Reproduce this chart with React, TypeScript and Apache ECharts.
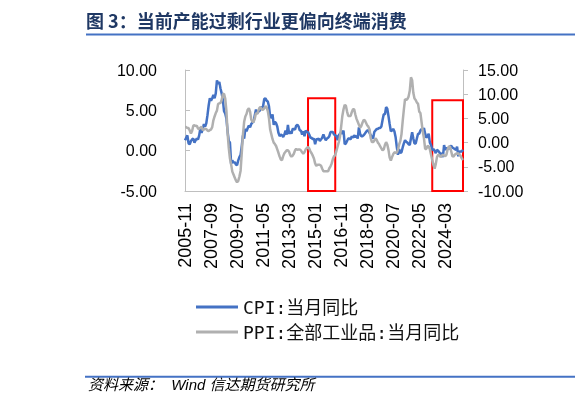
import React, { useEffect, useRef } from "react";
import * as echarts from "echarts";

// ---- Data (monthly, YoY %) ----
const startYear = 2005;
const startMonth = 11;

// CPI: 当月同比, 2005-11 .. 2025-06
const cpi: number[] = [
  1.3, 1.6,
  1.9, 0.9, 0.8, 1.2, 1.4, 1.5, 1.0, 1.3, 1.5, 1.4, 1.9, 2.8,
  2.2, 2.7, 3.3, 3.0, 3.4, 4.4, 5.6, 6.5, 6.2, 6.5, 6.9, 6.5,
  7.1, 8.7, 8.3, 8.5, 7.7, 7.1, 6.3, 4.9, 4.6, 4.0, 2.4, 1.2,
  1.0, -1.6, -1.2, -1.5, -1.4, -1.7, -1.8, -1.2, -0.8, -0.5, 0.6, 1.9,
  1.5, 2.7, 2.4, 2.8, 3.1, 2.9, 3.3, 3.5, 3.6, 4.4, 5.1, 4.6,
  4.9, 4.9, 5.4, 5.3, 5.5, 6.4, 6.5, 6.2, 6.1, 5.5, 4.2, 4.1,
  4.5, 3.2, 3.6, 3.4, 3.0, 2.2, 1.8, 2.0, 1.9, 1.7, 2.0, 2.5,
  2.0, 3.2, 2.1, 2.4, 2.1, 2.7, 2.7, 2.6, 3.1, 3.2, 3.0, 2.5,
  2.5, 2.0, 2.4, 1.8, 2.5, 2.3, 2.3, 2.0, 1.6, 1.6, 1.4, 1.5,
  0.8, 1.4, 1.4, 1.5, 1.2, 1.4, 1.6, 2.0, 1.6, 1.3, 1.5, 1.6,
  1.8, 2.3, 2.3, 2.3, 2.0, 1.9, 1.8, 1.3, 1.9, 2.1, 2.3, 2.1,
  2.5, 0.8, 0.9, 1.2, 1.5, 1.5, 1.4, 1.8, 1.6, 1.9, 1.7, 1.8,
  1.5, 2.9, 2.1, 1.8, 1.8, 1.9, 2.1, 2.3, 2.5, 2.5, 2.2, 1.9,
  1.7, 1.5, 2.3, 2.5, 2.7, 2.7, 2.8, 2.8, 3.0, 3.8, 4.5, 4.5,
  5.4, 5.2, 4.3, 3.3, 2.4, 2.5, 2.7, 2.4, 1.7, 0.5, -0.5, 0.2,
  -0.3, -0.2, 0.4, 0.9, 1.3, 1.1, 1.0, 0.8, 0.7, 1.5, 2.3, 1.5,
  0.9, 0.9, 1.5, 2.1, 2.1, 2.5, 2.7, 2.5, 2.8, 2.1, 1.6, 1.8,
  2.1, 1.0, 0.7, 0.1, 0.2, 0.0, -0.3, 0.1, 0.0, -0.2, -0.5, -0.3,
  -0.8, 0.7, 0.1, 0.3, 0.3, 0.2, 0.5, 0.6, 0.4, 0.3, 0.2, 0.1,
  0.5, -0.7, -0.1, -0.1, -0.1, 0.1,
];

// PPI: 全部工业品: 当月同比, 2005-11 .. 2025-06
const ppi: number[] = [
  3.2, 3.2,
  3.0, 3.0, 2.5, 1.9, 2.4, 3.5, 3.6, 3.4, 3.5, 2.9, 2.8, 3.1,
  3.3, 2.6, 2.7, 2.9, 2.8, 2.5, 2.4, 2.6, 2.7, 3.2, 4.6, 5.4,
  6.1, 6.6, 8.0, 8.1, 8.2, 8.8, 10.0, 10.1, 9.1, 6.6, 2.0, -1.1,
  -3.3, -4.5, -6.0, -6.6, -7.2, -7.8, -8.2, -7.9, -7.0, -5.8, -2.1, 1.7,
  4.3, 5.4, 5.9, 6.8, 7.1, 6.4, 4.8, 4.3, 4.3, 5.0, 6.1, 5.9,
  6.6, 7.2, 7.3, 6.8, 6.8, 7.1, 7.5, 7.3, 6.5, 5.0, 2.7, 1.7,
  0.7, 0.0, -0.3, -0.7, -1.4, -2.1, -2.9, -3.5, -3.6, -2.8, -2.2, -1.9,
  -1.6, -1.6, -1.9, -2.6, -2.9, -2.7, -2.3, -1.6, -1.3, -1.5, -1.4, -1.4,
  -1.6, -2.0, -2.3, -2.0, -1.4, -1.1, -0.9, -1.2, -1.8, -2.2, -2.7, -3.3,
  -4.3, -4.8, -4.6, -4.6, -4.6, -4.8, -5.4, -5.9, -5.9, -5.9, -5.9, -5.9,
  -5.3, -4.9, -4.3, -3.4, -2.8, -2.6, -1.7, -0.8, 0.1, 1.2, 3.3, 5.5,
  6.9, 7.8, 7.6, 6.4, 5.5, 5.5, 5.5, 6.3, 6.9, 6.9, 5.8, 4.9,
  4.3, 3.7, 3.1, 3.4, 4.1, 4.7, 4.6, 4.1, 3.6, 3.3, 2.7, 0.9,
  0.1, 0.1, 0.4, 0.9, 0.6, 0.0, -0.3, -0.8, -1.2, -1.6, -1.4, -0.5,
  0.1, -0.4, -1.5, -3.1, -3.7, -3.0, -2.4, -2.0, -2.1, -2.1, -1.5, -0.4,
  0.3, 1.7, 4.4, 6.8, 9.0, 8.8, 9.0, 9.5, 10.7, 13.5, 12.9, 10.3,
  9.1, 8.8, 8.3, 8.0, 6.4, 6.1, 4.2, 2.3, 0.9, -1.3, -1.3, -0.7,
  -0.8, -1.4, -2.5, -3.6, -4.6, -5.4, -4.4, -3.0, -2.5, -2.6, -3.0, -2.7,
  -2.5, -2.7, -2.8, -2.5, -1.4, -0.8, -0.8, -1.8, -2.8, -2.9, -2.5, -2.3,
  -2.3, -2.2, -2.5, -2.7, -3.3, -3.6,
];

// Month labels "YYYY-MM" for each data point
const categories: string[] = cpi.map((_, i) => {
  const m = startMonth - 1 + i;
  const y = startYear + Math.floor(m / 12);
  const mm = (m % 12) + 1;
  return `${y}-${mm < 10 ? "0" + mm : mm}`;
});

const seriesNames = ["CPI:当月同比", "PPI:全部工业品:当月同比"];

// Highlight boxes (category range, top value on left axis)
const boxFrom = ["2014-07", "2023-04"];
const boxTo = ["2016-06", "2025-06"];
const boxTop = [6.5, 6.25];

const leftAxisRange = [-5, 10, 5];
const rightAxisRange = [-10, 15, 5];

const titleText = "图 3：当前产能过剩行业更偏向终端消费";
const sourceText = "资料来源：  Wind 信达期货研究所";

export default function App() {
  const ref = useRef<HTMLDivElement>(null);

  useEffect(() => {
    if (!ref.current) return;
    const chart = echarts.init(ref.current, undefined, { renderer: "svg" });
    const axisGray = "#BFBFBF";
    const option: any = {
      animation: false,
      color: ["#4472C4", "#B0B0B0"],
      grid: { left: 185, right: 114, top: 70, bottom: 216 },
      legend: {
        orient: "vertical",
        left: 191,
        top: 293,
        icon: "rect",
        itemWidth: 42,
        itemHeight: 3,
        itemGap: 7,
        data: seriesNames,
        textStyle: {
          fontSize: 18,
          lineHeight: 18,
          color: "#111",
          fontFamily: '"DejaVu Sans Mono", "Noto Sans CJK SC", sans-serif',
        },
      },
      xAxis: {
        type: "category",
        data: categories,
        boundaryGap: false,
        axisLine: { onZero: false, lineStyle: { color: axisGray, width: 1 } },
        axisTick: { show: false },
        axisLabel: {
          interval: 21,
          rotate: 90,
          margin: 12,
          fontSize: 18,
          color: "#000",
          fontFamily: '"Liberation Sans", Arial, sans-serif',
          hideOverlap: false,
        },
        splitLine: { show: false },
      },
      yAxis: [
        {
          type: "value",
          position: "left",
          min: leftAxisRange[0],
          max: leftAxisRange[1],
          interval: leftAxisRange[2],
          axisLine: { show: true, onZero: false, lineStyle: { color: axisGray } },
          axisTick: { show: true, inside: true, length: 5, lineStyle: { color: axisGray } },
          splitLine: { show: false },
          axisLabel: {
            margin: 28,
            fontSize: 16,
            color: "#000",
            fontFamily: '"Liberation Sans", Arial, sans-serif',
            formatter: (v: number) => v.toFixed(2),
          },
        },
        {
          type: "value",
          position: "right",
          min: rightAxisRange[0],
          max: rightAxisRange[1],
          interval: rightAxisRange[2],
          axisLine: { show: true, onZero: false, lineStyle: { color: axisGray } },
          axisTick: { show: true, inside: false, length: 5, lineStyle: { color: axisGray } },
          splitLine: { show: false },
          axisLabel: {
            margin: 15,
            fontSize: 16,
            color: "#000",
            fontFamily: '"Liberation Sans", Arial, sans-serif',
            formatter: (v: number) => v.toFixed(2),
          },
        },
      ],
      series: [
        {
          name: seriesNames[0],
          type: "line",
          yAxisIndex: 0,
          data: cpi,
          symbol: "none",
          lineStyle: { width: 2.5, color: "#4472C4" },
          itemStyle: { color: "#4472C4" },
          markArea: {
            silent: true,
            itemStyle: {
              color: "rgba(0,0,0,0)",
              borderColor: "#FF0000",
              borderWidth: 2,
            },
            data: boxFrom.map((f, i) => [
              { xAxis: f, yAxis: boxTop[i] },
              { xAxis: boxTo[i], yAxis: leftAxisRange[0] },
            ]),
          },
        },
        {
          name: seriesNames[1],
          type: "line",
          yAxisIndex: 1,
          data: ppi,
          symbol: "none",
          lineStyle: { width: 2.5, color: "#B0B0B0" },
          itemStyle: { color: "#B0B0B0" },
        },
      ],
      graphic: [
        {
          type: "text",
          x: 86,
          y: 20,
          style: {
            text: titleText,
            fill: "#1F3864",
            fontSize: 18,
            fontWeight: "bold",
            fontFamily: '"Noto Sans CJK SC", sans-serif',
            verticalAlign: "middle",
          },
        },
        {
          type: "line",
          shape: { x1: 86, y1: 34.5, x2: 575, y2: 34.5 },
          style: { stroke: "#4472C4", lineWidth: 2 },
        },
        {
          type: "line",
          shape: { x1: 85, y1: 376.7, x2: 575, y2: 376.7 },
          style: { stroke: "#4472C4", lineWidth: 2 },
        },
        {
          type: "text",
          x: 88,
          y: 384,
          style: {
            text: sourceText,
            fill: "#000",
            fontSize: 15,
            fontStyle: "italic",
            fontFamily: '"Liberation Sans", "Noto Sans CJK SC", sans-serif',
            verticalAlign: "middle",
          },
        },
      ],
    };
    chart.setOption(option);
    return () => chart.dispose();
  }, []);

  return (
    <div
      ref={ref}
      style={{ position: "fixed", left: 0, top: 0, width: 577, height: 407 }}
    />
  );
}
